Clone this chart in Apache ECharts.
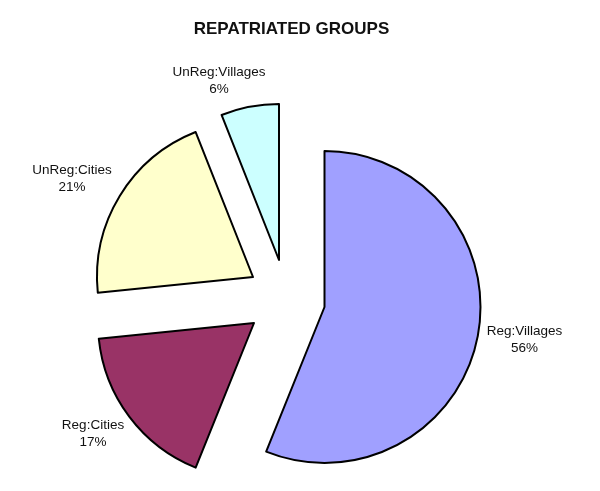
<!DOCTYPE html>
<html>
<head>
<meta charset="utf-8">
<style>
  html, body { margin: 0; padding: 0; background: #fff; }
  #chart { width: 600px; height: 491px; }
</style>
<script src="https://cdn.jsdelivr.net/npm/echarts@6/dist/echarts.min.js"></script>
</head>
<body>
<div id="chart"></div>
<script>
// ---- data ----
const titleText = 'REPATRIATED GROUPS';
const categories = ['Reg:Villages', 'Reg:Cities', 'UnReg:Cities', 'UnReg:Villages'];
const values = [56.1, 17.3, 20.6, 6.0];

// ---- styles (not data) ----
const palette = ['#A0A0FF', '#993366', '#FFFFCC', '#CCFFFF'];
// exploded slice centers and label offsets
const sliceCenters = [[324.5, 307], [254, 323], [253, 277], [279, 260]];
const labelOffsets = [[200, 33], [-161, 111], [-181, -98], [-60, -179]];

const chart = echarts.init(document.getElementById('chart'), null, { renderer: 'canvas' });

const series = categories.map(function (cat, si) {
  return {
    type: 'pie',
    center: sliceCenters[si],
    radius: [0, 156],
    startAngle: 90,
    clockwise: true,
    avoidLabelOverlap: false,
    silent: true,
    animation: false,
    emphasis: { disabled: true },
    labelLine: { show: false },
    labelLayout: { dx: labelOffsets[si][0], dy: labelOffsets[si][1] },
    data: categories.map(function (name, i) {
      const visible = i === si;
      return {
        name: name,
        value: values[i],
        itemStyle: visible
          ? { color: palette[i], borderColor: '#000', borderWidth: 2 }
          : { color: 'rgba(0,0,0,0)', borderWidth: 0 },
        label: visible
          ? {
              show: true,
              position: 'center',
              formatter: function (p) {
                return '{a|' + p.name + '}\n{a|' + Math.round(p.percent) + '%}';
              },
              rich: {
                a: {
                  align: 'center',
                  fontFamily: 'Liberation Sans, Arial, sans-serif',
                  fontSize: 13.5,
                  lineHeight: 17,
                  color: '#111'
                }
              }
            }
          : { show: false }
      };
    })
  };
});

chart.setOption({
  backgroundColor: '#fff',
  title: {
    text: titleText,
    left: 286.5,
    top: 16,
    textAlign: 'center',
    textStyle: {
      fontFamily: 'Liberation Sans, Arial, sans-serif',
      fontWeight: 'bold',
      fontSize: 17,
      color: '#111'
    }
  },
  series: series
});
</script>
</body>
</html>
